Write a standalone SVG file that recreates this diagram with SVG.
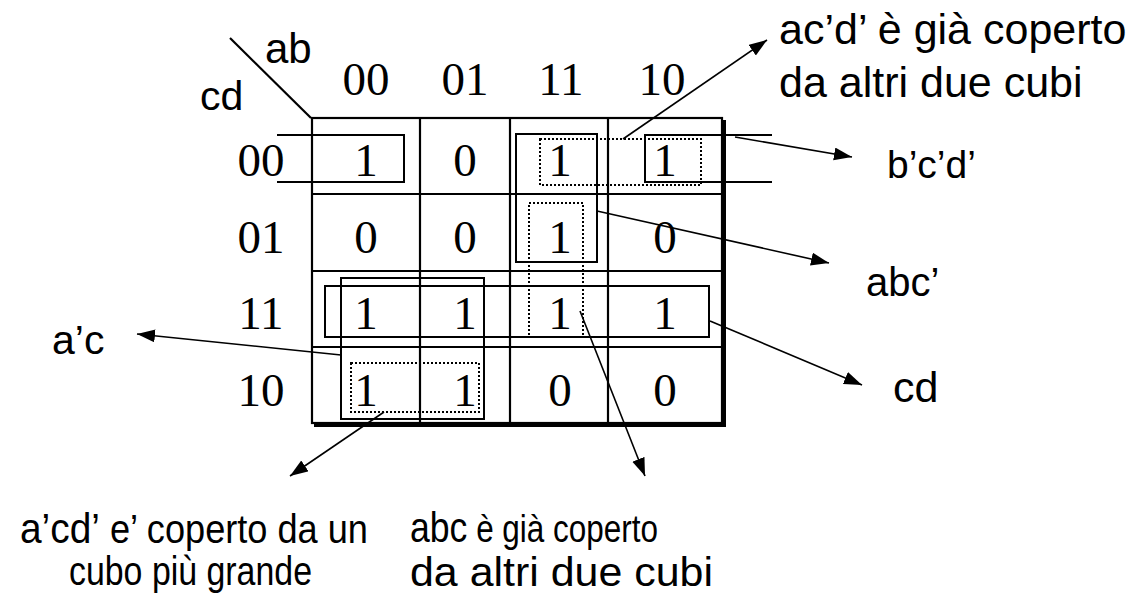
<svg xmlns="http://www.w3.org/2000/svg" width="1141" height="593" viewBox="0 0 1141 593">
<style>
.sans{font-family:"Liberation Sans",Arial,sans-serif;fill:#000}
.ser{font-family:"Liberation Serif","Times New Roman",serif;font-size:47px;fill:#000;text-anchor:middle}
.grid{stroke:#000;stroke-width:2.2;fill:none}
.box{stroke:#000;stroke-width:2;fill:none}
.dot{stroke:#000;stroke-width:2;fill:none;stroke-dasharray:2 2}
.conn{stroke:#000;stroke-width:1.6;fill:none}
</style>
<defs>
<marker id="ah" markerUnits="userSpaceOnUse" markerWidth="20" markerHeight="14" refX="18" refY="6.5" orient="auto">
<path d="M0,0 L18,6.5 L0,13 Z" fill="#000"/>
</marker>
</defs>
<rect width="1141" height="593" fill="#fff"/>

<g id="kmap-grid">
<line class="grid" x1="230" y1="38" x2="311" y2="118"/>
<rect class="grid" x="312" y="118" width="410" height="305"/>
<line class="grid" x1="420" y1="118" x2="420" y2="423"/>
<line class="grid" x1="510" y1="118" x2="510" y2="423"/>
<line class="grid" x1="608" y1="118" x2="608" y2="423"/>
<line class="grid" x1="312" y1="194" x2="722" y2="194"/>
<line class="grid" x1="312" y1="271" x2="722" y2="271"/>
<line class="grid" x1="312" y1="347" x2="722" y2="347"/>
<line stroke="#000" stroke-width="4" x1="724" y1="120" x2="724" y2="426"/>
<line stroke="#000" stroke-width="4" x1="314" y1="425" x2="726" y2="425"/>
</g>

<g id="axis-labels">
<text class="sans" x="265" y="63" font-size="42">ab</text>
<text class="sans" x="200" y="110" font-size="41">cd</text>
<text class="ser" x="366" y="95">00</text>
<text class="ser" x="465" y="95">01</text>
<text class="ser" x="561" y="95">11</text>
<text class="ser" x="662" y="95">10</text>
<text class="ser" x="261" y="176">00</text>
<text class="ser" x="261" y="253">01</text>
<text class="ser" x="261" y="329">11</text>
<text class="ser" x="261" y="406">10</text>
</g>

<g id="cells">
<text class="ser" x="366" y="176">1</text>
<text class="ser" x="465" y="176">0</text>
<text class="ser" x="560" y="176">1</text>
<text class="ser" x="665" y="176">1</text>
<text class="ser" x="366" y="253">0</text>
<text class="ser" x="465" y="253">0</text>
<text class="ser" x="560" y="253">1</text>
<text class="ser" x="665" y="253">0</text>
<text class="ser" x="366" y="329">1</text>
<text class="ser" x="465" y="329">1</text>
<text class="ser" x="560" y="329">1</text>
<text class="ser" x="665" y="329">1</text>
<text class="ser" x="366" y="406">1</text>
<text class="ser" x="465" y="406">1</text>
<text class="ser" x="560" y="406">0</text>
<text class="ser" x="665" y="406">0</text>
</g>

<g id="groupings">
<path class="box" d="M277,135 H404 V182 H277"/>
<path class="box" d="M772,135 H645 V182 H772"/>
<rect class="dot" x="540" y="139" width="161" height="46"/>
<rect class="box" x="516" y="134" width="81" height="128"/>
<rect class="dot" x="529" y="203" width="54" height="134"/>
<rect class="box" x="325" y="286" width="384" height="51"/>
<rect class="box" x="341" y="278" width="143" height="141" stroke="#333"/>
<rect class="dot" x="351" y="363" width="128" height="49"/>
</g>

<g id="connectors">
<line class="conn" x1="623" y1="139" x2="767" y2="40" marker-end="url(#ah)"/>
<line class="conn" x1="735" y1="137" x2="852" y2="157" marker-end="url(#ah)"/>
<line class="conn" x1="597" y1="211" x2="829" y2="263" marker-end="url(#ah)"/>
<line class="conn" x1="710" y1="321" x2="862" y2="385" marker-end="url(#ah)"/>
<line class="conn" x1="580" y1="311" x2="645" y2="476" marker-end="url(#ah)"/>
<line class="conn" x1="384" y1="412" x2="290" y2="476" marker-end="url(#ah)"/>
<line class="conn" x1="341" y1="355" x2="137" y2="334" marker-end="url(#ah)"/>
</g>

<g id="note-acd">
<text class="sans" x="779" y="44" font-size="43">ac’d’ è già coperto</text>
<text class="sans" x="779" y="97" font-size="43">da altri due cubi</text>
</g>
<g id="label-bcd"><text class="sans" x="887" y="178" font-size="39">b’c’d’</text></g>
<g id="label-abc1"><text class="sans" x="866" y="296" font-size="40">abc’</text></g>
<g id="label-cd"><text class="sans" x="893" y="402" font-size="43">cd</text></g>
<g id="label-ac"><text class="sans" x="52" y="354" font-size="41">a’c</text></g>
<g id="note-acd2">
<text class="sans" x="20" y="543" font-size="40" textLength="348" lengthAdjust="spacingAndGlyphs"><tspan font-size="43">a’cd’</tspan> e’ coperto da un</text>
<text class="sans" x="69" y="585" font-size="40" textLength="243" lengthAdjust="spacingAndGlyphs">cubo più grande</text>
</g>
<g id="note-abc">
<text class="sans" x="410" y="542" font-size="38" textLength="248" lengthAdjust="spacingAndGlyphs"><tspan font-size="43">abc</tspan> è già coperto</text>
<text class="sans" x="410" y="586" font-size="41" textLength="303" lengthAdjust="spacingAndGlyphs">da altri due cubi</text>
</g>
</svg>
